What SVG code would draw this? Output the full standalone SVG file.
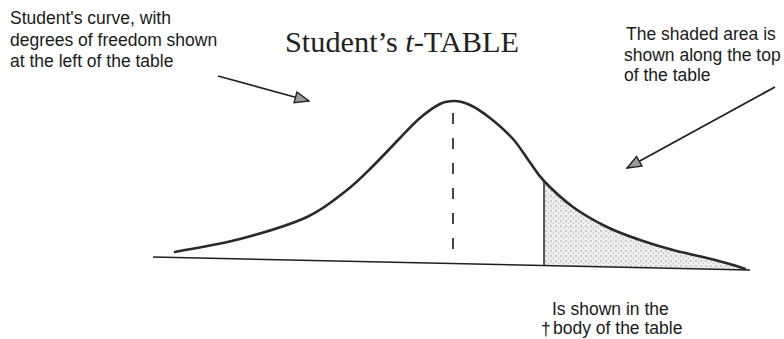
<svg xmlns="http://www.w3.org/2000/svg" width="784" height="339" viewBox="0 0 784 339">
<style>
.lbl{font-family:"Liberation Sans",Arial,sans-serif;font-size:17.5px;fill:#1a1a1a}
.title{font-family:"Liberation Serif","Times New Roman",serif;font-size:30.3px;fill:#222}
.curve{fill:none;stroke:#2a2a2a;stroke-width:2.6;stroke-linecap:round}
.conn{fill:none;stroke:#222;stroke-width:1.8}
</style>
<defs>
<pattern id="dots" width="5" height="5" patternUnits="userSpaceOnUse">
<rect width="5" height="5" fill="#eeeeee"/>
<circle cx="1" cy="1" r="0.7" fill="#8a8a8a"/>
<circle cx="3.5" cy="3" r="0.6" fill="#a0a0a0"/>
</pattern>
<marker id="tri" viewBox="0 0 16 14" refX="15" refY="7" markerWidth="16" markerHeight="14" markerUnits="userSpaceOnUse" orient="auto">
<path d="M1,1.5 L15,7 L1,12.5 Z" fill="#9a9a9a" stroke="#222" stroke-width="1.4"/>
</marker>
</defs>
<rect width="784" height="339" fill="#ffffff"/>

<g id="title">
<text class="title" x="285" y="52">Student’s <tspan font-style="italic">t</tspan>-TABLE</text>
</g>

<g id="label-left">
<text class="lbl" x="10" y="24">Student's curve, with</text>
<text class="lbl" x="10" y="46">degrees of freedom shown</text>
<text class="lbl" x="10" y="67">at the left of the table</text>
</g>

<g id="label-right">
<text class="lbl" x="626" y="40">The shaded area is</text>
<text class="lbl" x="624" y="61">shown along the top</text>
<text class="lbl" x="624" y="81">of the table</text>
</g>

<g id="label-bottom">
<text class="lbl" x="552" y="315">Is shown in the</text>
<text class="lbl" x="541" y="335" font-size="14px">†</text>
<text class="lbl" x="553" y="334">body of the table</text>
</g>

<g id="shaded-area">
<path d="M544,181 C551.3,188.7 562.5,199.3 573,207 C583.5,214.7 595.8,221.5 607,227 C618.2,232.5 629,236.2 640,240 C651,243.8 661.8,247 673,250 C684.2,253 695,255 707,258 C719,261 738.7,266.3 745,269 L544,265.5 Z" fill="url(#dots)"/>
</g>

<g id="axis">
<line x1="153" y1="257" x2="750" y2="270" stroke="#1f1f1f" stroke-width="1.6"/>
<line x1="453" y1="113" x2="453" y2="263.5" stroke="#444" stroke-width="2" stroke-dasharray="11 14"/>
<line x1="544" y1="181" x2="544" y2="265.5" stroke="#222" stroke-width="1.5"/>
</g>

<g id="t-curve">
<path class="curve" d="M175,252 C185.8,249.8 218,244.8 240,239 C262,233.2 289.2,225.2 307,217 C324.8,208.8 336,198.5 347,190 C358,181.5 364.2,174.7 373,166 C381.8,157.3 392.2,146 400,138 C407.8,130 413.3,123.7 420,118 C426.7,112.3 434.3,106.8 440,104 C445.7,101.2 448,101 454,101 C460,101 464,102.2 470,105 C476,107.8 482.8,112.3 490,118 C497.2,123.7 506.5,131.8 513,139 C519.5,146.2 523.8,154 529,161 C534.2,168 536.7,173.3 544,181 C551.3,188.7 562.5,199.3 573,207 C583.5,214.7 595.8,221.5 607,227 C618.2,232.5 629,236.2 640,240 C651,243.8 661.8,247 673,250 C684.2,253 695,255 707,258 C719,261 738.7,266.3 745,269"/>
</g>

<g id="connectors">
<line class="conn" x1="218" y1="76" x2="309" y2="101" marker-end="url(#tri)"/>
<line class="conn" x1="775" y1="87" x2="627" y2="168" marker-end="url(#tri)"/>
</g>
</svg>
